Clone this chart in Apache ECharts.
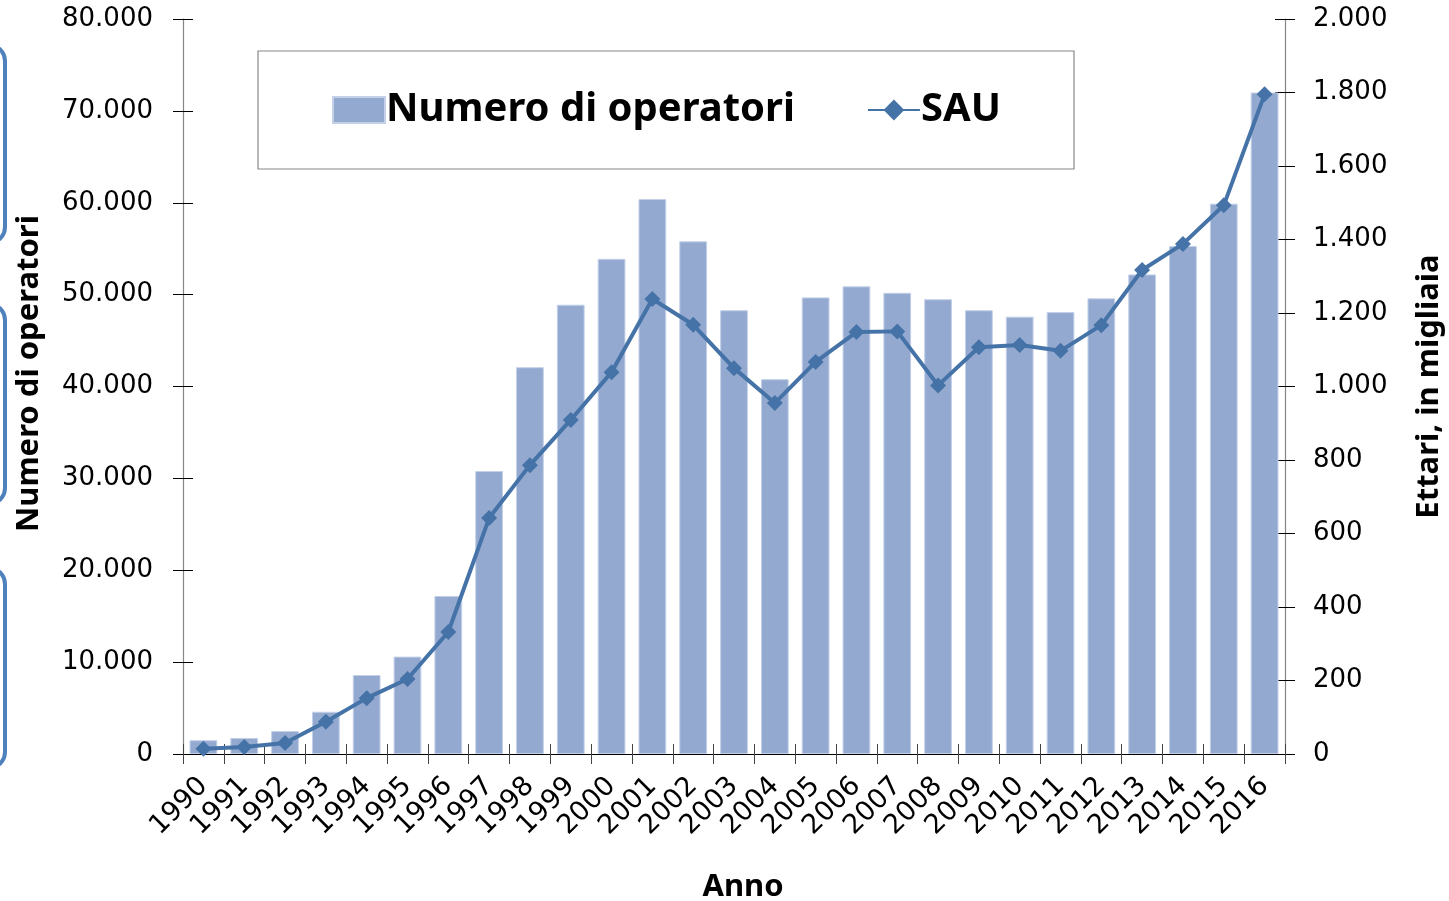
<!DOCTYPE html>
<html>
<head>
<meta charset="utf-8">
<script src="https://cdn.jsdelivr.net/npm/echarts@6/dist/echarts.min.js"></script>
<style>
html,body{margin:0;padding:0;background:#fff;}
#c{width:1449px;height:901px;}
</style>
</head>
<body>
<div id="c"></div>
<script>
var years = ['1990','1991','1992','1993','1994','1995','1996','1997','1998','1999','2000','2001','2002','2003','2004','2005','2006','2007','2008','2009','2010','2011','2012','2013','2014','2015','2016'];
var operatori = [1500,1750,2500,4600,8600,10600,17200,30800,42100,48900,53900,60400,55800,48300,40800,49700,50900,50200,49500,48300,47600,48100,49600,52200,55300,59900,72000];
var sau = [14,19,30,88,152,204,332,642,786,909,1039,1238,1168,1050,955,1067,1148,1150,1003,1107,1113,1097,1167,1317,1388,1493,1795];
var leftTicks = {min:0, max:80000, interval:10000};
var rightTicks = {min:0, max:2000, interval:200};

function fmt(v){ return String(v).replace(/\B(?=(\d{3})+(?!\d))/g,'.'); }

var chart = echarts.init(document.getElementById('c'));
var lblFont = 'DejaVu Sans';
var boldFont = 'Noto Sans';
var axisGray = '#868686';
chart.setOption({
  animation:false,
  backgroundColor:'#fff',
  grid:{left:183, right:164, top:19, bottom:147, containLabel:false, outerBoundsMode:'none'},
  legend:{
    left:327, top:85,
    itemWidth:52, itemHeight:26, itemGap:72,
    textStyle:{fontFamily:boldFont, fontWeight:'bold', fontSize:40, color:'#000', padding:[0,0,0,-4]},
    data:[{name:'Numero di operatori', icon:'rect'},{name:'SAU'}]
  },
  xAxis:[{
    type:'category', data:years, position:'bottom',
    name:'Anno', nameLocation:'middle', nameGap:118,
    nameTextStyle:{fontFamily:boldFont, fontWeight:'bold', fontSize:31, color:'#000', padding:[0,0,0,18]},
    axisLine:{lineStyle:{color:'#000', width:1.2}},
    axisTick:{show:true, length:10, interval:0, lineStyle:{color:'#444'}},
    axisLabel:{rotate:45, margin:28, interval:0, fontFamily:lblFont, fontSize:27, color:'#000'}
  },{
    type:'category', data:years, position:'bottom',
    axisLine:{show:false},
    axisTick:{show:true, inside:true, length:10, interval:0, lineStyle:{color:'#444'}},
    axisLabel:{show:false}
  }],
  yAxis:[{
    type:'value', min:leftTicks.min, max:leftTicks.max, interval:leftTicks.interval,
    name:'Numero di operatori', nameLocation:'middle', nameGap:138,
    nameTextStyle:{fontFamily:boldFont, fontWeight:'bold', fontSize:31, color:'#000', padding:[0,0,0,26]},
    axisLine:{show:true, lineStyle:{color:axisGray, width:1.2}},
    axisTick:{show:true, length:10, lineStyle:{color:'#000'}},
    axisLabel:{margin:30, fontFamily:lblFont, fontSize:26, color:'#000', formatter:fmt},
    splitLine:{show:false}
  },{
    type:'value', min:rightTicks.min, max:rightTicks.max, interval:rightTicks.interval,
    position:'right',
    name:'Ettari, in migliaia', nameLocation:'middle', nameGap:129, nameRotate:90,
    nameTextStyle:{fontFamily:boldFont, fontWeight:'bold', fontSize:31, color:'#000'},
    axisLine:{show:true, lineStyle:{color:axisGray, width:1.2}},
    axisTick:{show:true, length:10, lineStyle:{color:'#000'}},
    axisLabel:{margin:28, fontFamily:lblFont, fontSize:26, color:'#000', formatter:fmt},
    splitLine:{show:false}
  },{
    type:'value', min:leftTicks.min, max:leftTicks.max, interval:leftTicks.interval, position:'left',
    axisLine:{show:false}, axisTick:{show:true, inside:true, length:10, lineStyle:{color:'#000'}},
    axisLabel:{show:false}, splitLine:{show:false}
  },{
    type:'value', min:rightTicks.min, max:rightTicks.max, interval:rightTicks.interval, position:'right',
    axisLine:{show:false}, axisTick:{show:true, inside:true, length:10, lineStyle:{color:'#000'}},
    axisLabel:{show:false}, splitLine:{show:false}
  }],
  series:[{
    name:'Numero di operatori', type:'bar', data:operatori, xAxisIndex:0, yAxisIndex:0,
    barWidth:'68%',
    itemStyle:{color:'#94a9d0', borderColor:'#c3d0e8', borderWidth:1}
  },{
    name:'SAU', type:'line', data:sau, xAxisIndex:0, yAxisIndex:1,
    symbol:'diamond', symbolSize:16,
    lineStyle:{color:'#4573a8', width:4},
    itemStyle:{color:'#4573a8'}
  }],
  graphic:[
    {type:'rect', shape:{x:258, y:51, width:816, height:118}, style:{fill:null, stroke:'#888', lineWidth:1.2}, z:-1},
    {type:'rect', shape:{x:-40, y:45, width:45, height:198, r:16}, style:{fill:null, stroke:'#4f81bd', lineWidth:4}},
    {type:'rect', shape:{x:-40, y:304, width:45, height:200, r:16}, style:{fill:null, stroke:'#4f81bd', lineWidth:4}},
    {type:'rect', shape:{x:-40, y:568, width:45, height:200, r:16}, style:{fill:null, stroke:'#4f81bd', lineWidth:4}}
  ]
});
</script>
</body>
</html>
